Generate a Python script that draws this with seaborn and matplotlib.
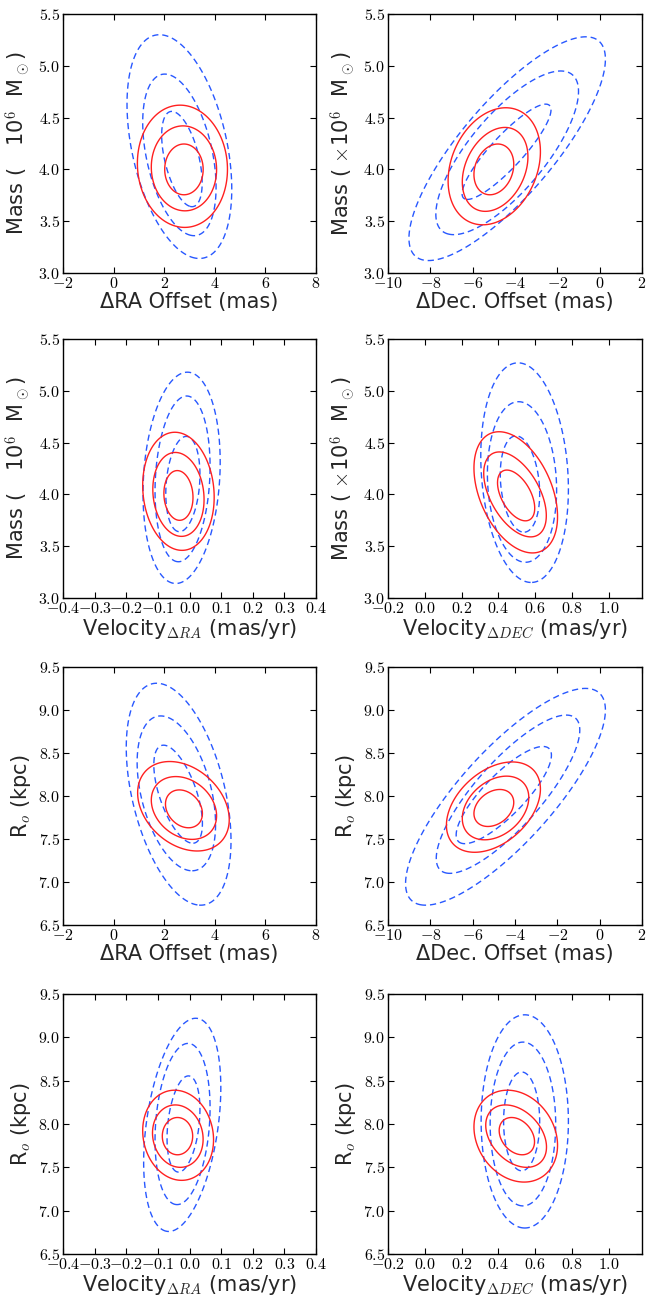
import numpy as np
import matplotlib
matplotlib.use("Agg")
import matplotlib.pyplot as plt
from matplotlib.ticker import FuncFormatter, MultipleLocator
import seaborn as sns

sns.set_theme(style="ticks")
plt.rcParams['font.family'] = ['DejaVu Sans']
plt.rcParams['mathtext.fontset'] = 'cm'

# ---- contour data: each row = [center_x, center_y, half_extent_x, half_extent_y, tilt_corr]
mass_dra_blue = [[2.70, 4.10, 0.80, 0.46, -0.50], [2.60, 4.14, 1.45, 0.78, -0.40], [2.60, 4.22, 2.07, 1.08, -0.38]]
mass_dra_red = [[2.78, 4.00, 0.76, 0.245, 0.00], [2.78, 4.01, 1.29, 0.41, -0.03], [2.72, 4.03, 1.78, 0.59, -0.05]]

mass_ddec_blue = [[-4.40, 4.17, 2.10, 0.46, 0.88], [-4.37, 4.16, 3.37, 0.79, 0.75], [-4.37, 4.20, 4.64, 1.08, 0.80]]
mass_ddec_red = [[-5.00, 4.00, 0.94, 0.245, 0.20], [-4.94, 4.00, 1.55, 0.405, 0.30], [-4.98, 4.03, 2.18, 0.565, 0.25]]

mass_vra_blue = [[-0.021, 4.10, 0.054, 0.46, 0.20], [-0.022, 4.15, 0.087, 0.80, 0.15], [-0.025, 4.16, 0.122, 1.02, 0.15]]
mass_vra_red = [[-0.035, 3.99, 0.046, 0.24, -0.08], [-0.035, 4.00, 0.081, 0.405, -0.12], [-0.035, 4.03, 0.113, 0.57, -0.10]]

mass_vdec_blue = [[0.517, 4.10, 0.107, 0.465, -0.20], [0.528, 4.12, 0.188, 0.775, -0.10], [0.542, 4.21, 0.238, 1.06, -0.15]]
mass_vdec_red = [[0.496, 3.99, 0.101, 0.245, -0.50], [0.490, 4.00, 0.170, 0.41, -0.50], [0.494, 4.02, 0.227, 0.585, -0.40]]

r0_dra_blue = [[2.55, 8.02, 0.96, 0.57, -0.60], [2.48, 8.03, 1.55, 0.90, -0.40], [2.57, 8.02, 2.07, 1.29, -0.42]]
r0_dra_red = [[2.78, 7.85, 0.73, 0.22, -0.25], [2.78, 7.86, 1.29, 0.365, -0.25], [2.76, 7.88, 1.81, 0.52, -0.30]]

r0_ddec_blue = [[-4.53, 8.01, 2.25, 0.565, 0.82], [-4.33, 8.02, 3.39, 0.92, 0.81], [-4.45, 7.99, 4.72, 1.26, 0.80]]
r0_ddec_red = [[-5.00, 7.86, 0.94, 0.215, 0.30], [-4.92, 7.86, 1.57, 0.37, 0.33], [-5.02, 7.87, 2.22, 0.525, 0.40]]

r0_vra_blue = [[-0.019, 8.00, 0.052, 0.555, 0.30], [-0.022, 8.00, 0.087, 0.93, 0.20], [-0.023, 7.99, 0.122, 1.23, 0.35]]
r0_vra_red = [[-0.038, 7.86, 0.048, 0.215, 0.00], [-0.037, 7.86, 0.080, 0.36, -0.10], [-0.036, 7.87, 0.112, 0.52, -0.10]]

r0_vdec_blue = [[0.526, 8.03, 0.098, 0.57, 0.00], [0.533, 8.00, 0.178, 0.945, 0.00], [0.543, 8.03, 0.237, 1.23, 0.00]]
r0_vdec_red = [[0.500, 7.86, 0.096, 0.215, -0.30], [0.496, 7.86, 0.165, 0.36, -0.35], [0.494, 7.86, 0.227, 0.53, -0.20]]

x_labels = ["ΔRA Offset (mas)", "ΔDec. Offset (mas)",
            r"Velocity$_{\Delta RA}$ (mas/yr)", r"Velocity$_{\Delta DEC}$ (mas/yr)"]
y_labels_mass = [r"Mass ( $\;\;\;$10$^6$  M$_\odot$)", r"Mass ( $\times$10$^6$  M$_\odot$)"]
y_label_r0 = r"R$_o$ (kpc)"

x_ranges = [(-2, 8), (-10, 2), (-0.4, 0.4), (-0.2, 1.18)]
x_steps = [2, 2, 0.1, 0.2]
x_decimals = [0, 0, 1, 1]
mass_range = (3.0, 5.5)
r0_range = (6.5, 9.5)

panels = [
    (0, 0, mass_dra_blue, mass_dra_red, 0, mass_range, y_labels_mass[0]),
    (0, 1, mass_ddec_blue, mass_ddec_red, 1, mass_range, y_labels_mass[1]),
    (1, 0, mass_vra_blue, mass_vra_red, 2, mass_range, y_labels_mass[0]),
    (1, 1, mass_vdec_blue, mass_vdec_red, 3, mass_range, y_labels_mass[1]),
    (2, 0, r0_dra_blue, r0_dra_red, 0, r0_range, y_label_r0),
    (2, 1, r0_ddec_blue, r0_ddec_red, 1, r0_range, y_label_r0),
    (3, 0, r0_vra_blue, r0_vra_red, 2, r0_range, y_label_r0),
    (3, 1, r0_vdec_blue, r0_vdec_red, 3, r0_range, y_label_r0),
]

BLUE = '#2858ff'
RED = '#ff2020'

fig = plt.figure(figsize=(6.47, 12.98), dpi=100)
lefts = [0.0974, 0.5997]
widths = [0.391, 0.3926]
bottoms = [0.7897, 0.5393, 0.2874, 0.0339]
heights = [0.1995, 0.1995, 0.1988, 0.2003]


def draw_ellipses(ax, ellipses, xr, yr, color, ls):
    gx = np.linspace(xr[0], xr[1], 400)
    gy = np.linspace(yr[0], yr[1], 400)
    X, Y = np.meshgrid(gx, gy)
    for cx, cy, hx, hy, rho in ellipses:
        u = (X - cx) / hx
        v = (Y - cy) / hy
        Q = (u ** 2 - 2 * rho * u * v + v ** 2) / (1 - rho ** 2)
        ax.contour(X, Y, Q, levels=[1.0], colors=[color], linewidths=1.0, linestyles=[ls])


for row, col, blue, red, xi, yr, ylab in panels:
    ax = fig.add_axes([lefts[col], bottoms[row], widths[col], heights[row]])
    ax.set_facecolor('white')
    xr = x_ranges[xi]
    draw_ellipses(ax, blue, xr, yr, BLUE, (0, (4.5, 2.8)))
    draw_ellipses(ax, red, xr, yr, RED, 'solid')
    ax.set_xlim(*xr)
    ax.set_ylim(*yr)
    ax.xaxis.set_major_locator(MultipleLocator(x_steps[xi]))
    ax.yaxis.set_major_locator(MultipleLocator(0.5))
    dec = x_decimals[xi]
    ax.xaxis.set_major_formatter(FuncFormatter(lambda v, p, d=dec: "$%.*f$" % (d, 0.0 if abs(v) < 1e-9 else v)))
    ax.yaxis.set_major_formatter(FuncFormatter(lambda v, p: "$%.1f$" % v))
    ax.tick_params(direction='in', length=4, width=0.8, top=True, right=True,
                   labelsize=11.5, colors='black', pad=2)
    for s in ax.spines.values():
        s.set_color('black')
        s.set_linewidth(1.0)
    ax.set_xlabel(x_labels[xi], fontsize=15, labelpad=1)
    ax.set_ylabel(ylab, fontsize=15, labelpad=4)
    ax.grid(False)

fig.savefig("out.png", dpi=100, facecolor='white')
